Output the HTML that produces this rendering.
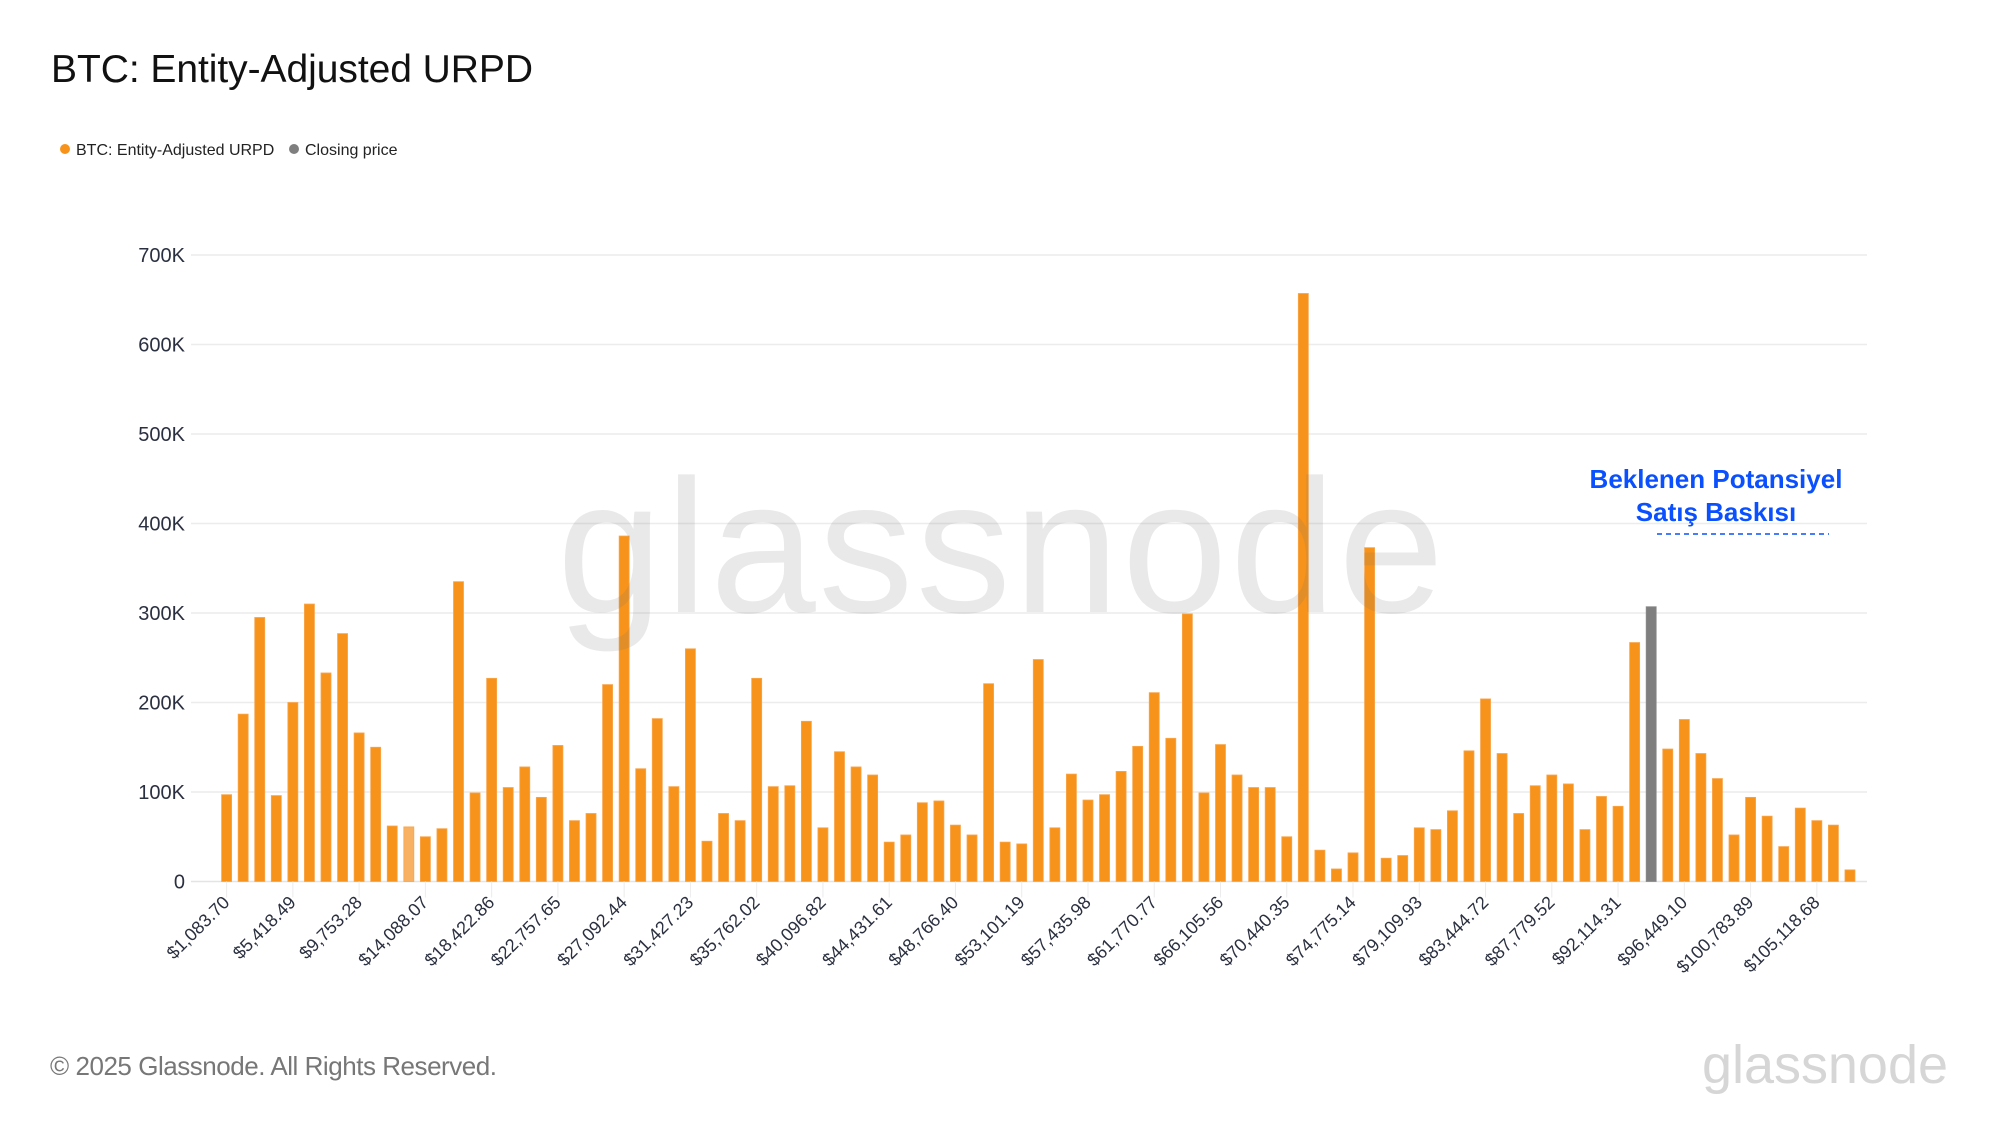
<!DOCTYPE html>
<html><head><meta charset="utf-8"><style>
html,body{margin:0;padding:0;background:#fff;}
svg{display:block;font-family:"Liberation Sans",sans-serif;}
</style></head><body>
<svg id="chart" width="2000" height="1125" viewBox="0 0 2000 1125">
<text x="51" y="82" font-size="39" fill="#111" textLength="482">BTC: Entity-Adjusted URPD</text>
<g>
<circle cx="65" cy="149" r="5" fill="#f7931a"/>
<text x="76" y="155" font-size="16" fill="#222">BTC: Entity-Adjusted URPD</text>
<circle cx="294" cy="149" r="5" fill="#7f7f7f"/>
<text x="305" y="155" font-size="16" fill="#222">Closing price</text>
</g>
<g id="grid"></g>
<g id="bars"></g>
<g id="xlabels"></g>
<text x="557" y="612" font-size="190" fill="rgba(120,120,120,0.16)" textLength="887">glassnode</text>
<g>
<text x="1716" y="488" font-size="26" font-weight="bold" fill="#0a50ff" text-anchor="middle">Beklenen Potansiyel</text>
<text x="1716" y="521" font-size="26" font-weight="bold" fill="#0a50ff" text-anchor="middle">Satış Baskısı</text>
<line x1="1657" y1="534" x2="1829" y2="534" stroke="#0a50ff" stroke-width="1.5" stroke-dasharray="5,4"/>
</g>
<text x="50" y="1075" font-size="26" fill="#777" textLength="447">© 2025 Glassnode. All Rights Reserved.</text>
<text x="1702" y="1083" font-size="54" fill="#d6d6d6" textLength="246">glassnode</text>
</svg>
<script>
const values = [97,187,295,96,200,310,233,277,166,150,62,61,50,59,335,99,227,105,128,94,152,68,76,220,386,126,182,106,260,45,76,68,227,106,107,179,60,145,128,119,44,52,88,90,63,52,221,44,42,248,60,120,91,97,123,151,211,160,299,99,153,119,105,105,50,657,35,14,32,373,26,29,60,58,79,146,204,143,76,107,119,109,58,95,84,267,307,148,181,143,115,52,94,73,39,82,68,63,13];
const closingIndex = 86;
const highlightIndex = 11;
const yTicks = [0,100,200,300,400,500,600,700];
const yTickLabels = ["0","100K","200K","300K","400K","500K","600K","700K"];
const xTickLabels = ["$1,083.70","$5,418.49","$9,753.28","$14,088.07","$18,422.86","$22,757.65","$27,092.44","$31,427.23","$35,762.02","$40,096.82","$44,431.61","$48,766.40","$53,101.19","$57,435.98","$61,770.77","$66,105.56","$70,440.35","$74,775.14","$79,109.93","$83,444.72","$87,779.52","$92,114.31","$96,449.10","$100,783.89","$105,118.68"];

const NS="http://www.w3.org/2000/svg";
const x0=226.6, step=16.565, barW=10, y0=881.5, yPer=89.5/100;
function xPos(i){return x0+i*step;}
function yPos(v){return y0-v*yPer;}
function mk(tag,attrs,parent){const e=document.createElementNS(NS,tag);for(const k in attrs)e.setAttribute(k,attrs[k]);parent.appendChild(e);return e;}
const grid=document.getElementById('grid');
yTicks.forEach((t,i)=>{
  const l=mk('line',{x1:191,x2:1867,y1:yPos(t),y2:yPos(t),stroke:i===0?'#e4e4e4':'#ececec','stroke-width':1.5},grid);
  
  
  const tx=mk('text',{x:185,y:yPos(t)+7,'font-size':20,fill:'#2b3040','text-anchor':'end'},grid);
  tx.textContent=yTickLabels[i];
  
  
});
const bars=document.getElementById('bars');
values.forEach((v,i)=>{
  let fill='#f7931a';
  if(i===closingIndex)fill='#7f7f7f';
  if(i===highlightIndex)fill='#f8b062';
  const r=mk('rect',{x:xPos(i)-barW/2,y:yPos(v),width:barW,height:v*yPer,fill:fill,stroke:i===closingIndex?'#8a8a8a':'#f9a54a','stroke-width':0.8},bars);
  
  
});
const xl=document.getElementById('xlabels');
xTickLabels.forEach((lab,k)=>{
  const x=xPos(k*4);
  const tk=mk('line',{x1:x,x2:x,y1:y0,y2:y0+16,stroke:'#ececec','stroke-width':1},xl);
  
  
  const t=mk('text',{x:x+4,y:y0+22,'font-size':18,fill:'#2b3040','text-anchor':'end',transform:'rotate(-45 '+(x+4)+' '+(y0+22)+')'},xl);
  t.textContent=lab;
  
  
});
</script>
</body></html>
